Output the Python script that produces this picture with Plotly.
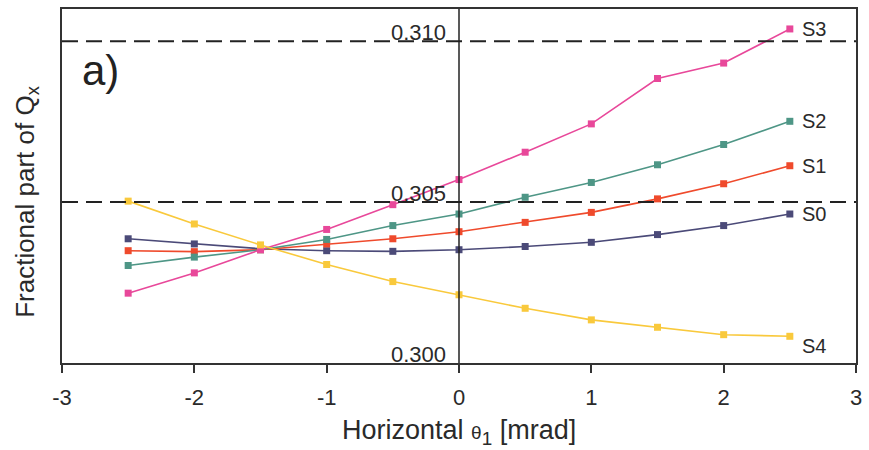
import plotly.graph_objects as go

# Horizontal crossing angle (mrad)
theta = [-2.5, -2.0, -1.5, -1.0, -0.5, 0.0, 0.5, 1.0, 1.5, 2.0, 2.5]

# Fractional tune Qx for each setting
s0 = [0.30386, 0.30370, 0.30355, 0.30349, 0.30347, 0.30352, 0.30362, 0.30375, 0.30399, 0.30427, 0.30463]
s1 = [0.30349, 0.30346, 0.30352, 0.30370, 0.30386, 0.30408, 0.30437, 0.30468, 0.30510, 0.30557, 0.30613]
s2 = [0.30303, 0.30329, 0.30352, 0.30384, 0.30427, 0.30463, 0.30515, 0.30561, 0.30616, 0.30679, 0.30751]
s3 = [0.30217, 0.30280, 0.30352, 0.30415, 0.30492, 0.30570, 0.30655, 0.30743, 0.30884, 0.30932, 0.31038]
s4 = [0.30503, 0.30432, 0.30367, 0.30306, 0.30253, 0.30212, 0.30170, 0.30134, 0.30111, 0.30088, 0.30083]

series_names = ["S0", "S1", "S2", "S3", "S4"]
series_values = [s0, s1, s2, s3, s4]
series_colors = ["#4b4a78", "#ef4a2c", "#4e9686", "#e8489a", "#f9c93c"]
label_shift = [0, 0, 0, 0, -10]

x_ticks = [-3, -2, -1, 0, 1, 2, 3]
x_tick_text = ["-3", "-2", "-1", "0", "1", "2", "3"]
y_ticks = [0.300, 0.305, 0.310]
y_tick_text = ["0.300", "0.305", "0.310"]
dashed_levels = [0.305, 0.310]

FONT = "Liberation Sans, Arial, sans-serif"
INK = "#2a2a2a"

fig = go.Figure()

for name, vals, col in zip(series_names, series_values, series_colors):
    fig.add_trace(go.Scatter(
        x=theta, y=vals, mode="lines+markers", name=name,
        line=dict(color=col, width=1.6),
        marker=dict(symbol="square", size=7, color=col),
        showlegend=False,
    ))

# Reference tune levels
for lvl in dashed_levels:
    fig.add_shape(type="line", xref="x", yref="y", x0=-3, x1=3, y0=lvl, y1=lvl,
                  line=dict(color="#222222", width=2, dash="16px,8px"))

# Vertical axis through zero
fig.add_shape(type="line", xref="x", yref="paper", x0=0, x1=0, y0=0, y1=1,
              line=dict(color="#222222", width=1.5))

# Tune labels sitting next to the zero line
for v, t in zip(y_ticks, y_tick_text):
    fig.add_annotation(x=0, y=v, xref="x", yref="y", text=t, showarrow=False,
                       xanchor="right", yanchor="bottom", xshift=-11, yshift=-6,
                       font=dict(family=FONT, size=22, color=INK))

# Series labels at the right end of each curve
for name, vals, dy in zip(series_names, series_values, label_shift):
    fig.add_annotation(x=theta[-1], y=vals[-1], xref="x", yref="y", text=name,
                       showarrow=False, xanchor="left", yanchor="middle",
                       xshift=10, yshift=dy,
                       font=dict(family=FONT, size=20, color=INK))

# Panel tag
fig.add_annotation(x=0.0225, y=0.825, xref="paper", yref="paper", text="a)",
                   showarrow=False, xanchor="left", yanchor="middle",
                   font=dict(family=FONT, size=42, color="#222222"))

# Axis titles
fig.add_annotation(x=0.5, y=-0.194, xref="paper", yref="paper",
                   text="Horizontal <span style='font-size:19px'>θ</span><sub>1</sub> [mrad]",
                   showarrow=False, xanchor="center", yanchor="middle",
                   font=dict(family=FONT, size=27, color=INK))
fig.add_annotation(x=-0.045, y=0.456, xref="paper", yref="paper",
                   text="Fractional part of Q<sub>x</sub>", textangle=-90,
                   showarrow=False, xanchor="center", yanchor="middle",
                   font=dict(family=FONT, size=26, color=INK))

fig.update_xaxes(
    range=[-3, 3], tickvals=x_ticks, ticktext=x_tick_text,
    ticks="outside", ticklen=8, tickwidth=1.5, tickcolor="#333333",
    ticklabelstandoff=6,
    showline=True, linecolor="#333333", linewidth=2, mirror=True,
    showgrid=False, zeroline=False,
    tickfont=dict(family=FONT, size=22, color=INK),
)
fig.update_yaxes(
    range=[0.300, 0.311], showticklabels=False, ticks="",
    showline=True, linecolor="#333333", linewidth=2, mirror=True,
    showgrid=False, zeroline=False,
)

fig.update_layout(
    width=869, height=450,
    margin=dict(l=62, r=7, t=8, b=87),
    paper_bgcolor="white", plot_bgcolor="white",
)

fig.write_html("out.html")
